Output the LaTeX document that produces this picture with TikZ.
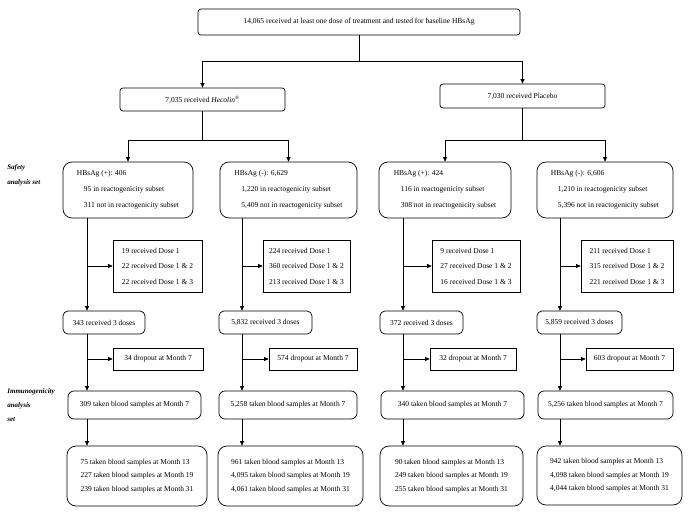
\documentclass[tikz,border=0pt]{standalone}
\usepackage{fontspec}
\setmainfont{Liberation Serif}
\usetikzlibrary{arrows.meta, positioning}

\begin{document}
\begin{tikzpicture}[
        x=1pt, y=-1pt, line width=0.7pt,
        every node/.style={font=\fontsize{7.5}{9}\selectfont},
        rbox/.style={draw, rounded corners=#1, inner sep=0pt, align=left},
        rbox/.default=4pt,
        sbox/.style={draw, inner sep=0pt, align=left},
        three/.style={font=\fontsize{7.5}{15.5}\selectfont},
        setlbl/.style={anchor=west, inner sep=0pt, align=left},
        arrow/.style={-{Triangle[length=4.5pt, width=4pt]}},
    ]
    \useasboundingbox (0,0) rectangle (691,516);

    % 总体
    \node[rbox=3pt, align=center, minimum width=322pt, minimum height=26pt] (all) at (359,22)
        {14,065 received at least one dose of treatment and tested for baseline HBsAg};
    \node[rbox=3pt, align=center, minimum width=165pt, minimum height=23pt] (hec) at (202.5,99.5)
        {7,035 received \textit{Hecolin}\textsuperscript{®}};
    \node[rbox=3pt, align=center, minimum width=165pt, minimum height=24pt] (plc) at (522.5,96)
        {7,030 received Placebo};
    \coordinate (s0) at (359,61);
    \draw (all) -- (s0);
    \draw[arrow] (s0) -| (hec.north);
    \draw[arrow] (s0) -| (plc.north);

    % 左侧标签
    \node[setlbl, font=\fontsize{7}{15}\selectfont\bfseries\itshape] (lsafe) at (7,175.5)
        {Safety\\analysis set};
    \node[setlbl, font=\fontsize{7}{14}\selectfont\bfseries\itshape] (limm) at (7,405)
        {Immunogenicity\\analysis\\set};

    % HBsAg 分组
    \node[rbox=9pt, font=\fontsize{7.5}{16}\selectfont, minimum width=130pt, minimum height=56pt] (pos1) at (128,190)
        {HBsAg (+): 406\\\hspace*{7pt}95 in reactogenicity subset\\\hspace*{7pt}311 not in reactogenicity subset};
    \node[rbox=9pt, font=\fontsize{7.5}{16}\selectfont, minimum width=137pt, minimum height=56pt] (neg1) at (288.5,190)
        {HBsAg (-): 6,629\\\hspace*{7pt}1,220 in reactogenicity subset\\\hspace*{7pt}5,409 not in reactogenicity subset};
    \node[rbox=9pt, font=\fontsize{7.5}{16}\selectfont, minimum width=132pt, minimum height=56pt] (pos2) at (445,190)
        {HBsAg (+): 424\\\hspace*{7pt}116 in reactogenicity subset\\\hspace*{7pt}308 not in reactogenicity subset};
    \node[rbox=9pt, font=\fontsize{7.5}{16}\selectfont, minimum width=136pt, minimum height=56pt] (neg2) at (605,190)
        {HBsAg (-): 6,606\\\hspace*{7pt}1,210 in reactogenicity subset\\\hspace*{7pt}5,396 not in reactogenicity subset};
    \coordinate (sh) at (202.5,140);
    \coordinate (sp) at (522.5,140);
    \draw (hec) -- (sh);
    \draw (plc) -- (sp);
    \draw[arrow] (sh) -| (pos1.north);
    \draw[arrow] (sh) -| (neg1.north);
    \draw[arrow] (sp) -| (pos2.north);
    \draw[arrow] (sp) -| (neg2.north);

    % 未完成三剂
    \node[sbox, three, minimum width=89pt, minimum height=52pt] (dose1) at (157.5,266)
        {19 received Dose 1\\22 received Dose 1 \& 2\\22 received Dose 1 \& 3};
    \node[sbox, three, minimum width=87pt, minimum height=52pt] (dose2) at (306.5,266)
        {224 received Dose 1\\360 received Dose 1 \& 2\\213 received Dose 1 \& 3};
    \node[sbox, three, minimum width=88pt, minimum height=52pt] (dose3) at (476,266)
        {9 received Dose 1\\27 received Dose 1 \& 2\\16 received Dose 1 \& 3};
    \node[sbox, three, minimum width=92pt, minimum height=52pt] (dose4) at (627,266)
        {211 received Dose 1\\315 received Dose 1 \& 2\\221 received Dose 1 \& 3};

    % 三剂
    \node[rbox=5pt, minimum width=82pt, minimum height=23pt] (three1) at (104,322.5) {343 received 3 doses};
    \node[rbox=5pt, minimum width=93pt, minimum height=23pt] (three2) at (265.5,322.5) {5,832 received 3 doses};
    \node[rbox=5pt, minimum width=83pt, minimum height=23pt] (three3) at (421.5,322.5) {372 received 3 doses};
    \node[rbox=5pt, minimum width=85pt, minimum height=23pt] (three4) at (579.5,322.5) {5,859 received 3 doses};

    % 脱落
    \node[sbox, minimum width=90pt, minimum height=22pt] (drop1) at (158,359) {34 dropout at Month 7};
    \node[sbox, minimum width=88pt, minimum height=22pt] (drop2) at (313,359) {574 dropout at Month 7};
    \node[sbox, minimum width=86pt, minimum height=22pt] (drop3) at (473,359) {32 dropout at Month 7};
    \node[sbox, minimum width=87pt, minimum height=22pt] (drop4) at (629.5,359) {603 dropout at Month 7};

    % 第7月采血
    \node[rbox=6pt, minimum width=133pt, minimum height=28pt] (m7a) at (134.5,405) {309 taken blood samples at Month 7};
    \node[rbox=6pt, minimum width=138pt, minimum height=28pt] (m7b) at (288,405) {5,258 taken blood samples at Month 7};
    \node[rbox=6pt, minimum width=143pt, minimum height=28pt] (m7c) at (452.5,405) {340 taken blood samples at Month 7};
    \node[rbox=6pt, minimum width=135pt, minimum height=28pt] (m7d) at (605.5,405) {5,256 taken blood samples at Month 7};

    % 后续采血
    \node[rbox=9pt, font=\fontsize{7.5}{13.5}\selectfont, minimum width=140pt, minimum height=60pt] (fin1) at (137,476)
        {75 taken blood samples at Month 13\\227 taken blood samples at Month 19\\239 taken blood samples at Month 31};
    \node[rbox=9pt, font=\fontsize{7.5}{13.5}\selectfont, minimum width=145pt, minimum height=60pt] (fin2) at (290.5,476)
        {961 taken blood samples at Month 13\\4,095 taken blood samples at Month 19\\4,061 taken blood samples at Month 31};
    \node[rbox=9pt, font=\fontsize{7.5}{13.5}\selectfont, minimum width=143pt, minimum height=60pt] (fin3) at (451.5,476)
        {90 taken blood samples at Month 13\\249 taken blood samples at Month 19\\255 taken blood samples at Month 31};
    \node[rbox=9pt, font=\fontsize{7.5}{13.5}\selectfont, minimum width=145pt, minimum height=59pt] (fin4) at (609.5,475.5)
        {942 taken blood samples at Month 13\\4,098 taken blood samples at Month 19\\4,044 taken blood samples at Month 31};

    % 主干竖线
    \coordinate (tr1) at (87,0);
    \coordinate (tr2) at (242,0);
    \coordinate (tr3) at (403,0);
    \coordinate (tr4) at (560,0);

    \draw[arrow] (tr1 |- pos1.south) -- (tr1 |- three1.north);
    \draw[arrow] (tr1 |- dose1.west) -- (dose1.west);
    \draw[arrow] (tr1 |- three1.south) -- (tr1 |- m7a.north);
    \draw[arrow] (tr1 |- drop1.west) -- (drop1.west);
    \draw[arrow] (tr1 |- m7a.south) -- (tr1 |- fin1.north);

    \draw[arrow] (tr2 |- neg1.south) -- (tr2 |- three2.north);
    \draw[arrow] (tr2 |- dose2.west) -- (dose2.west);
    \draw[arrow] (tr2 |- three2.south) -- (tr2 |- m7b.north);
    \draw[arrow] (tr2 |- drop2.west) -- (drop2.west);
    \draw[arrow] (tr2 |- m7b.south) -- (tr2 |- fin2.north);

    \draw[arrow] (tr3 |- pos2.south) -- (tr3 |- three3.north);
    \draw[arrow] (tr3 |- dose3.west) -- (dose3.west);
    \draw[arrow] (tr3 |- three3.south) -- (tr3 |- m7c.north);
    \draw[arrow] (tr3 |- drop3.west) -- (drop3.west);
    \draw[arrow] (tr3 |- m7c.south) -- (tr3 |- fin3.north);

    \draw[arrow] (tr4 |- neg2.south) -- (tr4 |- three4.north);
    \draw[arrow] (tr4 |- dose4.west) -- (dose4.west);
    \draw[arrow] (tr4 |- three4.south) -- (tr4 |- m7d.north);
    \draw[arrow] (tr4 |- drop4.west) -- (drop4.west);
    \draw[arrow] (tr4 |- m7d.south) -- (tr4 |- fin4.north);

\end{tikzpicture}
\end{document}
